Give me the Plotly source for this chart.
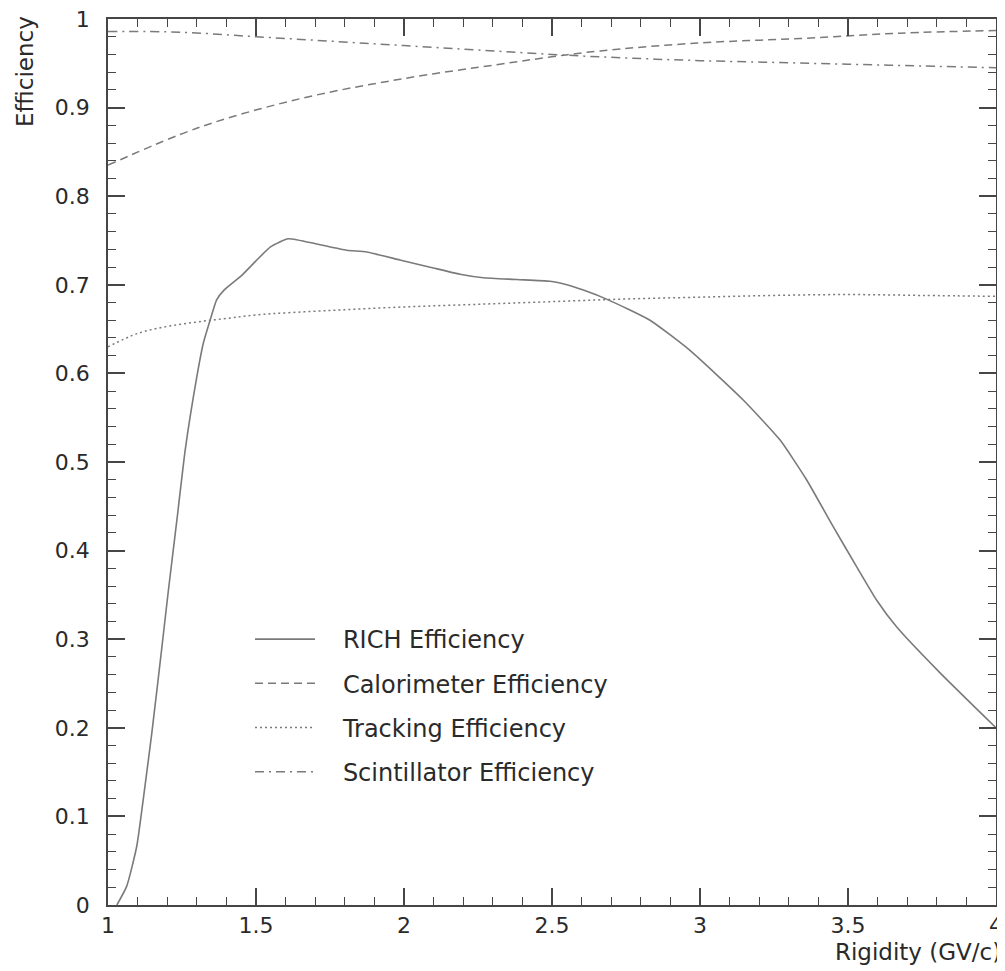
import plotly.graph_objects as go

# RICH efficiency (solid)
rich_x = [1.03, 1.063, 1.097, 1.119, 1.148, 1.181, 1.204, 1.234, 1.261, 1.30, 1.322, 1.345, 1.367,
          1.392, 1.45, 1.50, 1.55, 1.609, 1.705, 1.806, 1.874, 1.986, 2.099, 2.189, 2.268, 2.381,
          2.493, 2.550, 2.606, 2.690, 2.831, 2.966, 3.146, 3.270, 3.360, 3.450, 3.529, 3.597,
          3.664, 3.811, 4.0]
rich_y = [0.0, 0.021, 0.066, 0.119, 0.194, 0.288, 0.355, 0.438, 0.514, 0.596, 0.634, 0.660, 0.683,
          0.694, 0.710, 0.727, 0.743, 0.752, 0.746, 0.739, 0.737, 0.728, 0.719, 0.712, 0.708, 0.706,
          0.704, 0.700, 0.694, 0.683, 0.660, 0.626, 0.570, 0.525, 0.480, 0.427, 0.382, 0.344,
          0.314, 0.262, 0.200]

# Calorimeter efficiency (dashed)
calo_x = [1.0, 1.311, 1.649, 1.986, 2.324, 2.493, 2.662, 3.0, 3.338, 3.676, 4.0]
calo_y = [0.835, 0.878, 0.910, 0.932, 0.949, 0.957, 0.964, 0.973, 0.978, 0.984, 0.987]

# Tracking efficiency (dotted)
track_x = [1.0, 1.1, 1.2, 1.3, 1.4, 1.5, 1.75, 2.0, 2.25, 2.5, 2.75, 3.0, 3.25, 3.5, 3.75, 4.0]
track_y = [0.630, 0.645, 0.653, 0.658, 0.662, 0.666, 0.671, 0.675, 0.678, 0.681, 0.684, 0.686,
           0.688, 0.689, 0.688, 0.687]

# Scintillator efficiency (dash-dot)
scint_x = [1.0, 1.25, 1.5, 1.75, 2.0, 2.25, 2.5, 2.75, 3.0, 3.25, 3.5, 3.75, 4.0]
scint_y = [0.986, 0.985, 0.980, 0.975, 0.970, 0.965, 0.960, 0.956, 0.953, 0.951, 0.949, 0.947, 0.945]

series_names = ["RICH Efficiency", "Calorimeter Efficiency", "Tracking Efficiency",
                "Scintillator Efficiency"]

x_ticks = [1, 1.5, 2, 2.5, 3, 3.5, 4]
x_labels = ["1", "1.5", "2", "2.5", "3", "3.5", "4"]
y_ticks = [0, 0.1, 0.2, 0.3, 0.4, 0.5, 0.6, 0.7, 0.8, 0.9, 1.0]
y_labels = ["0", "0.1", "0.2", "0.3", "0.4", "0.5", "0.6", "0.7", "0.8", "0.9", "1"]

FONT = "DejaVu Sans"
LINE = "#7a7a7a"
AXC = "rgb(70,70,70)"
TXT = "#2a2a2a"
PAD = "\u00a0\u00a0\u00a0"

fig = go.Figure()
fig.add_trace(go.Scatter(x=rich_x, y=rich_y, mode="lines", name=PAD + series_names[0],
                         legendgroup="a", line=dict(color=LINE, width=1.6, shape="spline", smoothing=0.5)))
fig.add_trace(go.Scatter(x=calo_x, y=calo_y, mode="lines", name=PAD + series_names[1],
                         legendgroup="b", line=dict(color=LINE, width=1.5, dash="8px,5px", shape="spline")))
fig.add_trace(go.Scatter(x=track_x, y=track_y, mode="lines", name=PAD + series_names[2],
                         legendgroup="c", line=dict(color=LINE, width=1.5, dash="2px,3px", shape="spline")))
fig.add_trace(go.Scatter(x=scint_x, y=scint_y, mode="lines", name=PAD + series_names[3],
                         legendgroup="d", line=dict(color=LINE, width=1.5, dash="9px,5px,2px,5px", shape="spline")))

axis_common = dict(
    showgrid=False, zeroline=False, showline=True, linecolor=AXC, linewidth=1.5,
    ticks="inside", ticklen=17, tickwidth=1.6, tickcolor=AXC, mirror="allticks",
    automargin=False, tickmode="array", ticklabeloverflow="allow",
    tickfont=dict(family=FONT, size=22, color=TXT),
)

fig.update_xaxes(range=[1, 4], tickvals=x_ticks, ticktext=x_labels,
                 minor=dict(tickmode="linear", tick0=1, dtick=0.1, ticks="inside", ticklen=8,
                            tickwidth=1.4, tickcolor=AXC, showgrid=False),
                 **axis_common)
fig.update_yaxes(range=[0, 1], tickvals=y_ticks, ticktext=y_labels, ticklabelstandoff=12,
                 minor=dict(tickmode="linear", tick0=0, dtick=0.02, ticks="inside", ticklen=8,
                            tickwidth=1.4, tickcolor=AXC, showgrid=False),
                 **axis_common)

fig.add_annotation(text="Efficiency", xref="paper", yref="paper", x=(25 - 108) / 888,
                   y=(905 - 72) / 886, xanchor="center", yanchor="middle", textangle=-90,
                   showarrow=False, font=dict(family=FONT, size=23, color=TXT))
fig.add_annotation(text="Rigidity (GV/c)", xref="paper", yref="paper", x=(1003 - 108) / 888,
                   y=(905 - 952) / 886, xanchor="right", yanchor="middle",
                   showarrow=False, font=dict(family=FONT, size=23, color=TXT))

fig.update_layout(
    width=997, height=963,
    margin=dict(l=100, r=9, t=11, b=66),
    paper_bgcolor="white", plot_bgcolor="white",
    showlegend=True,
    legend=dict(x=(250 - 108) / 888, y=(905 - 617) / 886, xanchor="left", yanchor="top",
                bgcolor="rgba(0,0,0,0)", tracegroupgap=10, itemwidth=60,
                font=dict(family=FONT, size=24, color=TXT)),
)

fig.write_html("out.html")
